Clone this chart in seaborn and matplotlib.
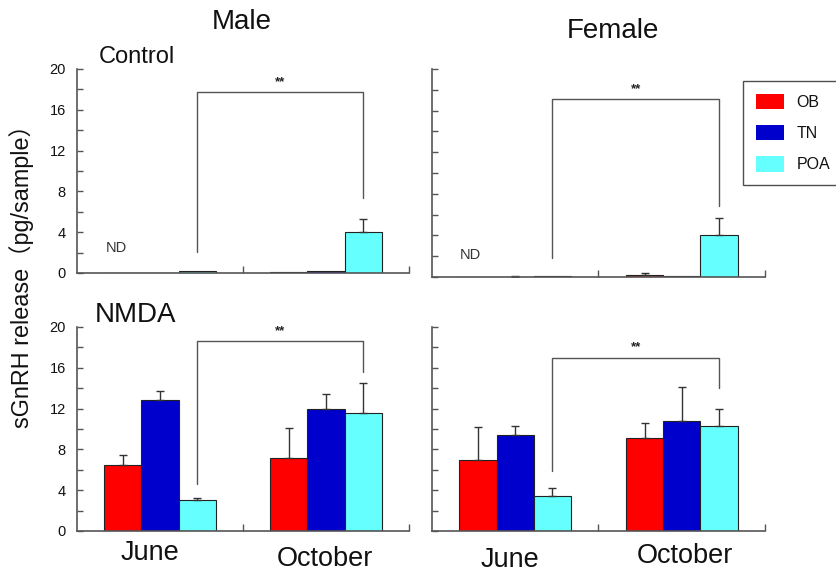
import numpy as np
import pandas as pd
import matplotlib
matplotlib.use("Agg")
import matplotlib.pyplot as plt
import seaborn as sns
from matplotlib.patches import Patch

sns.set_theme(style="white")
plt.rcParams['font.family'] = ['Liberation Sans', 'Noto Sans CJK JP', 'DejaVu Sans']
plt.rcParams['text.color'] = '#111111'
plt.rcParams['ytick.labelcolor'] = '#111111'

months = ["June", "October"]
regions = ["OB", "TN", "POA"]
colors = ["#FF0000", "#0000CC", "#66FFFF"]

# values per panel: [June, October]
male_ctrl_OB = [0.0, 0.1];   male_ctrl_TN = [0.03, 0.18];  male_ctrl_POA = [0.15, 4.05]
male_ctrl_OB_err = [0, 0];   male_ctrl_TN_err = [0, 0];    male_ctrl_POA_err = [0, 1.25]
fem_ctrl_OB = [0.0, 0.15];   fem_ctrl_TN = [0.03, 0.08];   fem_ctrl_POA = [0.1, 4.05]
fem_ctrl_OB_err = [0, 0.25]; fem_ctrl_TN_err = [0.05, 0];  fem_ctrl_POA_err = [0, 1.6]
male_nmda_OB = [6.45, 7.2];  male_nmda_TN = [12.8, 12.0];  male_nmda_POA = [3.07, 11.6]
male_nmda_OB_err = [1.05, 2.9]; male_nmda_TN_err = [0.9, 1.4]; male_nmda_POA_err = [0.13, 2.9]
fem_nmda_OB = [6.95, 9.1];   fem_nmda_TN = [9.4, 10.75];   fem_nmda_POA = [3.45, 10.25]
fem_nmda_OB_err = [3.2, 1.5]; fem_nmda_TN_err = [0.9, 3.35]; fem_nmda_POA_err = [0.8, 1.75]

# brackets: left y, top y, right y
male_ctrl_br = [2.1, 17.7, 7.35]
fem_ctrl_br = [1.8, 17.1, 6.8]
male_nmda_br = [4.6, 18.6, 15.6]
fem_nmda_br = [5.9, 17.0, 14.05]

yticks = [0, 4, 8, 12, 16, 20]

W, H = 837, 574
fig = plt.figure(figsize=(W/100, H/100), dpi=100)

def ax_at(x0, x1, ytop, ybot):
    return fig.add_axes([x0/W, 1 - ybot/H, (x1-x0)/W, (ybot-ytop)/H])

# (axes, data..., bracket, y labels?, month label positions (px x, px y) or None)
panels = [
    (ax_at(77, 409, 69, 273), male_ctrl_OB, male_ctrl_TN, male_ctrl_POA,
     male_ctrl_OB_err, male_ctrl_TN_err, male_ctrl_POA_err, male_ctrl_br, True, None),
    (ax_at(432, 765, 69, 277), fem_ctrl_OB, fem_ctrl_TN, fem_ctrl_POA,
     fem_ctrl_OB_err, fem_ctrl_TN_err, fem_ctrl_POA_err, fem_ctrl_br, False, None),
    (ax_at(77, 409, 327, 531), male_nmda_OB, male_nmda_TN, male_nmda_POA,
     male_nmda_OB_err, male_nmda_TN_err, male_nmda_POA_err, male_nmda_br, True,
     [(150, 553), (325, 559)]),
    (ax_at(432, 765, 327, 531), fem_nmda_OB, fem_nmda_TN, fem_nmda_POA,
     fem_nmda_OB_err, fem_nmda_TN_err, fem_nmda_POA_err, fem_nmda_br, False,
     [(510, 560), (685, 556)]),
]

axcol = "#555555"
for ax, ob, tn, poa, obe, tne, poae, br, ylab, mpos in panels:
    df = pd.DataFrame({
        "month": months * 3,
        "region": ["OB"] * 2 + ["TN"] * 2 + ["POA"] * 2,
        "value": ob + tn + poa,
        "err": obe + tne + poae,
    })
    sns.barplot(data=df, x="month", y="value", hue="region", order=months,
                hue_order=regions, palette=colors, width=0.67, errorbar=None,
                edgecolor="#222222", linewidth=0.8, saturation=1, legend=False, ax=ax)
    bar_conts = list(ax.containers)
    centers = {}
    for ci, cont in enumerate(bar_conts):
        for mi, p in enumerate(cont.patches):
            xc = p.get_x() + p.get_width() / 2
            centers[(regions[ci], mi)] = xc
            row = df[(df.region == regions[ci]) & (df.month == months[mi])]
            e = row["err"].values[0]
            v = row["value"].values[0]
            if e > 0:
                ax.errorbar([xc], [v], yerr=[[0], [e]], fmt="none", ecolor="#333333",
                            elinewidth=1.0, capsize=3, capthick=1.0)
    # bracket
    xl = centers[("POA", 0)]; xr = centers[("POA", 1)]
    ax.plot([xl, xl, xr, xr], [br[0], br[1], br[1], br[2]], color="#555555", lw=1.0)
    ax.text((xl + xr) / 2, br[1] + 1.0, "**", ha="center", va="center", fontsize=9.5,
            color="#222222", fontweight="bold")

    ax.set_xlim(-0.5, 1.5)
    ax.set_ylim(0, 20)
    for s in ["top", "right"]:
        ax.spines[s].set_visible(False)
    for s in ["left", "bottom"]:
        ax.spines[s].set_color(axcol)
        ax.spines[s].set_linewidth(1.2)
    ax.set_yticks(yticks)
    ax.set_yticks([2, 6, 10, 14, 18], minor=True)
    ax.set_xticks([0.5, 1.5], minor=True)
    ax.tick_params(axis="y", which="both", direction="in", length=4, width=1, color=axcol,
                   labelsize=10.5, pad=8, left=True)
    ax.tick_params(axis="x", which="minor", direction="in", length=5, width=1, color=axcol, bottom=True)
    ax.tick_params(axis="x", which="major", length=0, labelbottom=False)
    if not ylab:
        ax.set_yticklabels([])
    ax.set_xlabel("")
    ax.set_ylabel("")
    if mpos is not None:
        for name, (px, py) in zip(months, mpos):
            fig.text(px / W, 1 - py / H, name, ha="center", va="center", fontsize=19.5)

# ND annotations
panels[0][0].text(-0.265, 2.45, "ND", ha="center", va="center", fontsize=10.5, color="#333333")
panels[1][0].text(-0.27, 2.1, "ND", ha="center", va="center", fontsize=10.5, color="#333333")

fig.text(242/W, 1 - 22/H, "Male", ha="center", va="center", fontsize=20)
fig.text(613/W, 1 - 31/H, "Female", ha="center", va="center", fontsize=20)
fig.text(99/W, 1 - 57/H, "Control", ha="left", va="center", fontsize=17)
fig.text(95/W, 1 - 315/H, "NMDA", ha="left", va="center", fontsize=20)
fig.text(22/W, 1 - 271/H, "sGnRH release（pg/sample）", ha="center", va="center",
         rotation=90, fontsize=16.8)

handles = [Patch(facecolor=c, edgecolor="none") for c in colors]
leg = fig.legend(handles, regions, loc="upper left", bbox_to_anchor=(743/W, 1 - 81/H),
                 borderaxespad=0, frameon=True, fancybox=False, edgecolor="#222222",
                 fontsize=11.5, handlelength=1.75, handleheight=1.1, labelspacing=0.95,
                 handletextpad=0.8, borderpad=0.8)
leg.get_frame().set_linewidth(1.0)

fig.savefig("out.png", dpi=100)
